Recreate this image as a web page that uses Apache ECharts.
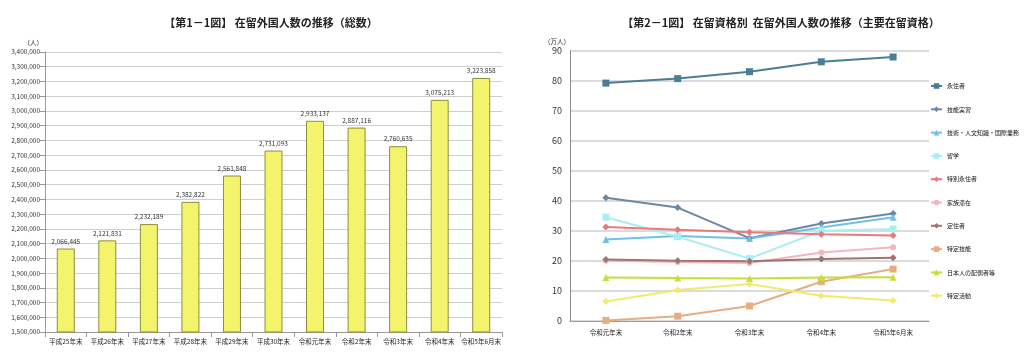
<!DOCTYPE html>
<html>
<head>
<meta charset="utf-8">
<script src="https://cdn.jsdelivr.net/npm/echarts@6/dist/echarts.min.js"></script>
<style>
  html, body { margin: 0; padding: 0; background: #fff; }
  #chart { width: 1024px; height: 353px; }
</style>
</head>
<body>
<div id="chart"></div>
<script>
// 第1-1図 在留外国人数の推移（総数）
var totalYears = ['平成25年末', '平成26年末', '平成27年末', '平成28年末', '平成29年末', '平成30年末',
  '令和元年末', '令和2年末', '令和3年末', '令和4年末', '令和5年6月末'];
var totalValues = [2066445, 2121831, 2232189, 2382822, 2561848, 2731093,
  2933137, 2887116, 2760635, 3075213, 3223858];

// 第2-1図 在留資格別（万人）
var statusYears = ['令和元年末', '令和2年末', '令和3年末', '令和4年末', '令和5年6月末'];
var eijusha = [79.3, 80.8, 83.1, 86.4, 88.0];
var ginoJisshu = [41.1, 37.8, 27.6, 32.5, 35.8];
var gijinkoku = [27.2, 28.3, 27.5, 31.2, 34.6];
var ryugaku = [34.6, 28.1, 20.8, 30.1, 30.7];
var tokubetsuEiju = [31.3, 30.4, 29.6, 28.9, 28.5];
var kazokuTaizai = [20.1, 19.7, 19.3, 22.8, 24.6];
var teijusha = [20.5, 20.1, 19.9, 20.7, 21.1];
var tokuteiGino = [0.2, 1.6, 5.0, 13.1, 17.3];
var haigusha = [14.5, 14.3, 14.2, 14.5, 14.6];
var tokuteiKatsudo = [6.5, 10.3, 12.3, 8.4, 6.8];

function comma (v) {
  return String(v).replace(/\B(?=(\d{3})+(?!\d))/g, ',');
}

var font = '"Noto Sans CJK JP", sans-serif';

function lineSeries (name, data, color, symbol, size) {
  return {
    name: name,
    type: 'line',
    xAxisIndex: 1,
    yAxisIndex: 1,
    data: data,
    symbol: symbol,
    symbolSize: size,
    lineStyle: { color: color, width: 2 },
    itemStyle: { color: color },
    emphasis: { disabled: true }
  };
}

var option = {
  animation: false,
  textStyle: { fontFamily: font },
  title: [
    {
      text: '【第1－1図】 在留外国人数の推移（総数）',
      left: 266, top: 12, textAlign: 'center',
      textStyle: { fontSize: 11, fontWeight: 'bold', color: '#222', fontFamily: font }
    },
    {
      text: '【第2－1図】 在留資格別  在留外国人数の推移（主要在留資格）',
      left: 776, top: 12, textAlign: 'center',
      textStyle: { fontSize: 11, fontWeight: 'bold', color: '#222', fontFamily: font }
    }
  ],
  legend: {
    orient: 'vertical',
    left: 930,
    top: 83,
    padding: 0,
    itemWidth: 11,
    itemHeight: 7,
    itemGap: 17.3,
    textStyle: { fontSize: 6, color: '#111', fontFamily: font },
    data: ['永住者', '技能実習', '技術・人文知識・国際業務', '留学', '特別永住者',
      '家族滞在', '定住者', '特定技能', '日本人の配偶者等', '特定活動']
  },
  grid: [
    { left: 45, right: 522, top: 52, bottom: 21 },
    { left: 570, right: 95, top: 51, bottom: 32 }
  ],
  xAxis: [
    {
      type: 'category', gridIndex: 0, data: totalYears,
      axisLine: { lineStyle: { color: '#999' } },
      axisTick: { show: true, alignWithLabel: false, lineStyle: { color: '#999' } },
      axisLabel: { interval: 0, fontSize: 6.5, color: '#222', margin: 6 }
    },
    {
      type: 'category', gridIndex: 1, data: statusYears,
      axisLine: { lineStyle: { color: '#999' } },
      axisTick: { show: false },
      axisLabel: { interval: 0, fontSize: 6.5, color: '#222', margin: 8 }
    }
  ],
  yAxis: [
    {
      type: 'value', gridIndex: 0, min: 1500000, max: 3400000, interval: 100000,
      name: '（人）', nameLocation: 'end', nameGap: 6,
      nameTextStyle: { fontSize: 6.5, color: '#333', align: 'right', padding: [0, 2, 0, 0] },
      axisLine: { show: true, lineStyle: { color: '#999' } },
      axisTick: { show: true, lineStyle: { color: '#999' } },
      axisLabel: { fontSize: 6.5, color: '#333', margin: 5, formatter: comma },
      splitLine: { lineStyle: { color: '#cfcfcf' } }
    },
    {
      type: 'value', gridIndex: 1, min: 0, max: 90, interval: 10,
      name: '（万人）', nameLocation: 'end', nameGap: 6,
      nameTextStyle: { fontSize: 6.5, color: '#333', align: 'right', padding: [0, 0, 0, 0] },
      axisLine: { show: true, lineStyle: { color: '#888' } },
      axisTick: { show: false },
      axisLabel: { fontSize: 9, color: '#333', margin: 8 },
      splitLine: { lineStyle: { color: '#cfcfcf', width: 1.5 } }
    }
  ],
  series: [
    {
      name: '総数',
      type: 'bar',
      xAxisIndex: 0,
      yAxisIndex: 0,
      data: totalValues,
      barWidth: 18,
      itemStyle: { color: '#F4F46C', borderColor: '#8E8E40', borderWidth: 1 },
      label: {
        show: true, position: 'top', distance: 4, fontSize: 6.5, color: '#333',
        formatter: function (p) { return comma(p.value); }
      },
      emphasis: { disabled: true }
    },
    lineSeries('永住者', eijusha, '#4A7E95', 'rect', 7),
    lineSeries('技能実習', ginoJisshu, '#6A88A2', 'diamond', 7),
    lineSeries('技術・人文知識・国際業務', gijinkoku, '#6FC2E6', 'triangle', 7),
    lineSeries('留学', ryugaku, '#A8EEF5', 'rect', 7),
    lineSeries('特別永住者', tokubetsuEiju, '#E97A7B', 'diamond', 7),
    lineSeries('家族滞在', kazokuTaizai, '#F4B6BE', 'circle', 6),
    lineSeries('定住者', teijusha, '#A07272', 'diamond', 7),
    lineSeries('特定技能', tokuteiGino, '#E8AC82', 'rect', 7),
    lineSeries('日本人の配偶者等', haigusha, '#C4DF3A', 'triangle', 7),
    lineSeries('特定活動', tokuteiKatsudo, '#F1EA6C', 'diamond', 7)
  ]
};

var myChart = echarts.init(document.getElementById('chart'));
myChart.setOption(option);
</script>
</body>
</html>
